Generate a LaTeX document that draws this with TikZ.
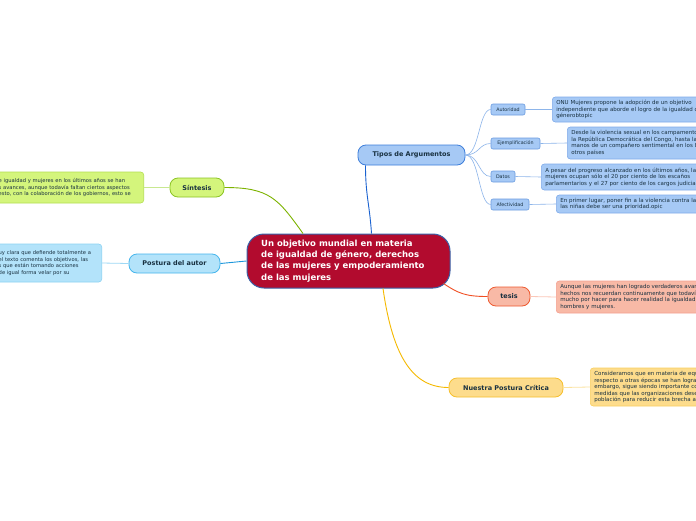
\documentclass[tikz,border=0pt]{standalone}
\usepackage{fontspec}
\setmainfont{DejaVu Sans}
\definecolor{txt}{HTML}{183040}
\definecolor{crim}{HTML}{B20B2E}
\definecolor{crimb}{HTML}{3A62A8}
\definecolor{bfill}{HTML}{A6C9F5}
\definecolor{bdark}{HTML}{3D7EDB}
\definecolor{bmid}{HTML}{6B9BE0}
\definecolor{blight}{HTML}{80ABEA}
\definecolor{bline}{HTML}{1A62D0}
\definecolor{bthin}{HTML}{8DB5EA}
\definecolor{tfill}{HTML}{F8B9A6}
\definecolor{tdark}{HTML}{EE5A30}
\definecolor{tlight}{HTML}{F4A090}
\definecolor{tline}{HTML}{F04E23}
\definecolor{tthin}{HTML}{FBC7B8}
\definecolor{yfill}{HTML}{FDDC8C}
\definecolor{ydark}{HTML}{F6BF2C}
\definecolor{ylight}{HTML}{F9CF60}
\definecolor{yline}{HTML}{F5B900}
\definecolor{ythin}{HTML}{FBE3A0}
\definecolor{gfill}{HTML}{D4F57C}
\definecolor{gdark}{HTML}{8CC424}
\definecolor{glight}{HTML}{B4DF52}
\definecolor{gline}{HTML}{7DB300}
\definecolor{gthin}{HTML}{C8E890}
\definecolor{cfill}{HTML}{B3E3FA}
\definecolor{cdark}{HTML}{45B5EC}
\definecolor{clight}{HTML}{8CD2F2}
\definecolor{cline}{HTML}{1B96DB}
\definecolor{cthin}{HTML}{9ED8F5}
\tikzset{
  branch/.style={rounded corners=8pt, line width=0.8pt, inner sep=0pt,
    font=\fontsize{6.5}{8}\selectfont\bfseries, text=txt},
  subbox/.style={rounded corners=2pt, line width=0.6pt, draw=bmid, fill=bfill,
    inner sep=0pt, minimum height=11pt, font=\fontsize{4.8}{6}\selectfont, text=txt},
  leaf/.style={rounded corners=3pt, line width=0.6pt, inner xsep=4pt, inner ysep=2pt,
    align=left, font=\fontsize{5.5}{6.5}\selectfont, text=txt},
  leftleaf/.style={leaf, font=\fontsize{5.2}{6.5}\selectfont},
}
\begin{document}
\begin{tikzpicture}[x=1pt,y=-1pt]
\useasboundingbox (0,0) rectangle (696,520);
\fill[white] (0,0) rectangle (696,520);

% central
\node[draw=crimb, fill=crim, line width=1pt, rounded corners=17pt,
  minimum width=203pt, minimum height=54pt, inner sep=0pt] (central) at (348.5,261) {};
\node[anchor=west, align=left, text=white, inner sep=0pt,
  font=\fontsize{8.5}{11.3}\selectfont\bfseries] (ctext) at (261,261)
  {Un objetivo mundial en materia\\de igualdad de género, derechos\\de las mujeres y empoderamiento\\de las mujeres};

% main branches
\node[branch, draw=bdark, fill=bfill, minimum width=107pt, minimum height=20pt] (tipos) at (411.5,155) {Tipos de Argumentos};
\node[branch, draw=tdark, fill=tfill, minimum width=42pt, minimum height=19pt] (tesis) at (509,296.5) {tesis};
\node[branch, draw=ydark, fill=yfill, minimum width=114pt, minimum height=19pt] (nuestra) at (506,387.5) {Nuestra Postura Crítica};
\node[branch, draw=gdark, fill=gfill, minimum width=54pt, minimum height=19pt] (sintesis) at (197,187.5) {Síntesis};
\node[branch, draw=cdark, fill=cfill, minimum width=91pt, minimum height=19pt] (postura) at (174.5,263.5) {Postura del autor};

% sub nodes
\node[subbox, minimum width=34pt] (autoridad) at (508,109.5) {Autoridad};
\node[subbox, minimum width=49pt] (ejemp) at (515.5,143.5) {Ejemplificación};
\node[subbox, minimum width=24pt] (datos) at (503,176.5) {Datos};
\node[subbox, minimum width=38pt] (afect) at (510,204.5) {Afectividad};

% leaves
\node[leaf, draw=blight, fill=bfill, text width=200pt, minimum height=25pt, anchor=west] (lautor) at (552,109.5)
  {ONU Mujeres propone la adopción de un objetivo\\independiente que aborde el logro de la igualdad de\\génerobtopic};
\node[leaf, draw=blight, fill=bfill, text width=200pt, minimum height=32pt, anchor=west] (lejemp) at (567,143)
  {Desde la violencia sexual en los campamento\\la República Democrática del Congo, hasta la\\manos de un compañero sentimental en los E\\otros países};
\node[leaf, draw=blight, fill=bfill, text width=200pt, minimum height=26pt, anchor=west] (ldatos) at (541,177)
  {A pesar del progreso alcanzado en los últimos años, la\\mujeres ocupan sólo el 20 por ciento de los escaños\\parlamentarios y el 27 por ciento de los cargos judicia};
\node[leaf, draw=blight, fill=bfill, text width=200pt, minimum height=18pt, anchor=west] (lafect) at (556,204)
  {En primer lugar, poner fin a la violencia contra las\\las niñas debe ser una prioridad.opic};
\node[leaf, draw=tlight, fill=tfill, text width=200pt, minimum height=32pt, anchor=west] (ltesis) at (556,297)
  {Aunque las mujeres han logrado verdaderos avan\\hechos nos recuerdan continuamente que todavía\\mucho por hacer para hacer realidad la igualdad\\hombres y mujeres.};
\node[leaf, draw=ylight, fill=yfill, text width=200pt, minimum height=38pt, anchor=west] (lnuestra) at (590,387)
  {Consideramos que en materia de equ\\respecto a otras épocas se han logra\\embargo, sigue siendo importante co\\medidas que las organizaciones dese\\población para reducir esta brecha a};
\node[leftleaf, draw=glight, fill=gfill, text width=141pt, minimum height=31pt, anchor=east] (lsint) at (144,187.5)
  {e igualdad y mujeres en los últimos años se han\\s avances, aunque todavía faltan ciertos aspectos\\esto, con la colaboración de los gobiernos, esto se};
\node[leftleaf, draw=clight, fill=cfill, text width=99pt, minimum height=38pt, anchor=east] (lpost) at (102,263)
  {uy clara que defiende totalmente a\\el texto comenta los objetivos, las\\s que están tomando acciones\\de igual forma velar por su};

% connectors from central
\draw[bline, line width=0.9pt] ([xshift=23pt]central.north) .. controls +(-2,-30) and +(0,30) .. ([xshift=-46pt]tipos.south);
\draw[tline, line width=0.9pt] ([shift={(-7,-5)}]central.south east) .. controls +(15,10) and +(-22,0) .. (tesis.west);
\draw[yline, line width=0.9pt] ([xshift=34.5pt]central.south) .. controls +(10,70) and +(-35,0) .. (nuestra.west);
\draw[gline, line width=0.9pt] ([xshift=-45.5pt]central.north) .. controls +(-25,-35) and +(45,0) .. (sintesis.east);
\draw[cline, line width=0.9pt] (central.west) -- (postura.east);

% tipos to sub nodes
\foreach \s in {autoridad,ejemp,datos,afect}
  \draw[bthin, line width=0.6pt] (tipos.east) .. controls +(14,0) and +(-12,0) .. (\s.west);
\draw[bthin, line width=0.6pt] (autoridad.east) -- (lautor.west);
\draw[bthin, line width=0.6pt] (ejemp.east) -- (lejemp.west);
\draw[bthin, line width=0.6pt] (datos.east) -- (ldatos.west);
\draw[bthin, line width=0.6pt] (afect.east) -- (lafect.west);
\draw[tthin, line width=0.8pt] (tesis.east) -- (ltesis.west);
\draw[ythin, line width=0.8pt] (nuestra.east) -- (lnuestra.west);
\draw[gthin, line width=0.8pt] (sintesis.west) -- (lsint.east);
\draw[cthin, line width=0.8pt] (postura.west) -- (lpost.east);
\end{tikzpicture}
\end{document}
